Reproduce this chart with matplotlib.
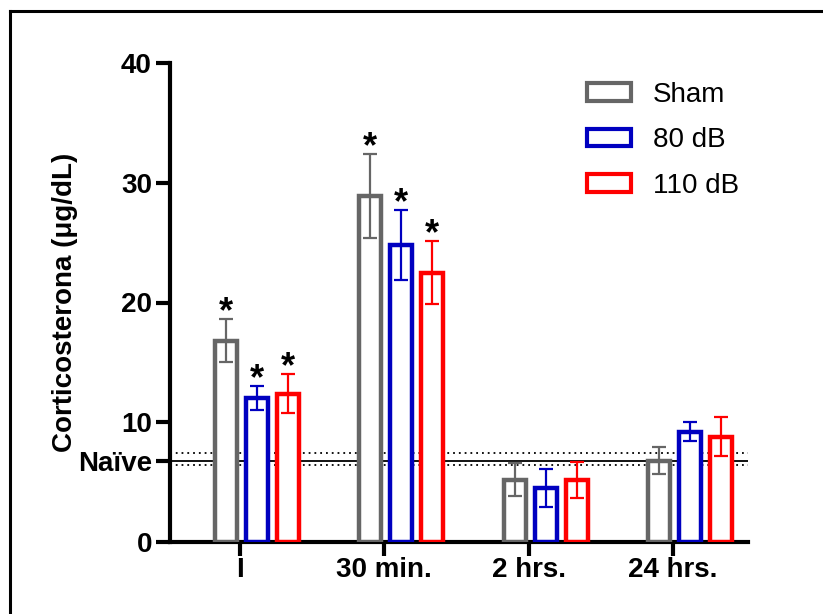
import matplotlib
matplotlib.use("Agg")
import matplotlib.pyplot as plt
import numpy as np
from matplotlib.patches import Rectangle
from matplotlib.lines import Line2D

plt.rcParams['font.family'] = ['Liberation Sans', 'DejaVu Sans']

groups = ["I", "30 min.", "2 hrs.", "24 hrs."]
series = ["Sham", "80 dB", "110 dB"]
colors = ["#666666", "#0000c0", "#ff0000"]
sham = [16.8, 28.9, 5.2, 6.8]
db80 = [12.0, 24.8, 4.5, 9.2]
db110 = [12.4, 22.5, 5.2, 8.8]
sham_err = [1.8, 3.5, 1.4, 1.1]
db80_err = [1.0, 2.9, 1.6, 0.8]
db110_err = [1.6, 2.6, 1.5, 1.6]
sig_sham = [True, True, False, False]
sig_80 = [True, True, False, False]
sig_110 = [True, True, False, False]
naive_mean = 6.8
naive_upper = 7.4
naive_lower = 6.4

values = [sham, db80, db110]
errs = [sham_err, db80_err, db110_err]
sigs = [sig_sham, sig_80, sig_110]

fig = plt.figure(figsize=(8.23, 6.14), dpi=100)
ax = fig.add_axes([170/823, 1-542/614, (748-170)/823, (542-63)/614])

x = np.arange(len(groups))
offset = 0.215
width = 0.153
for k in range(3):
    xs = x + (k - 1) * offset
    ax.bar(xs, values[k], width=width, facecolor='white', edgecolor=colors[k],
           linewidth=3.2, zorder=3, label=series[k])
    ax.errorbar(xs, values[k], yerr=errs[k], fmt='none', ecolor=colors[k],
                elinewidth=1.6, capsize=5, capthick=1.6, zorder=4)
    for xi, v, e, s in zip(xs, values[k], errs[k], sigs[k]):
        if s:
            ax.text(xi, v + e - 0.25, "*", ha='center', va='baseline', fontsize=26,
                    fontweight='bold', zorder=5)

xl = (-0.604, 3.403)
ax.plot(xl, [naive_mean]*2, color='black', lw=1.3, zorder=2)
ax.plot(xl, [naive_upper]*2, color='black', lw=1.3, ls=(0, (1, 2.2)), zorder=2)
ax.plot(xl, [naive_lower]*2, color='black', lw=1.3, ls=(0, (1, 2.2)), zorder=2)

ax.set_xlim(*xl)
ax.set_ylim(0, 40)
ax.spines['top'].set_visible(False)
ax.spines['right'].set_visible(False)
ax.spines['left'].set_linewidth(3)
ax.spines['bottom'].set_linewidth(3)
ax.set_xticks(x - 0.118)
ax.set_xticklabels(groups, fontsize=20, fontweight='bold')
ax.set_yticks([0, 10, 20, 30, 40, naive_mean])
ax.set_yticklabels(["0", "10", "20", "30", "40", "Naïve"], fontsize=20, fontweight='bold')
ax.tick_params(axis='both', width=3, length=10, pad=3)
ax.tick_params(axis='x', pad=1)
ax.set_ylabel("Corticosterona (μg/dL)", fontsize=20, fontweight='bold', labelpad=0)

handles = [Rectangle((0, 0), 1, 1, facecolor='white', edgecolor=c, linewidth=3) for c in colors]
ax.legend(handles, series, loc='upper right', bbox_to_anchor=(0.985, 1 - 19/479), frameon=False,
          fontsize=20, handlelength=1.6, handleheight=0.6, labelspacing=0.7, handletextpad=0.8,
          borderpad=0, borderaxespad=0)

fig.add_artist(Line2D([9.5/823, 9.5/823], [0, 1-11/614], color='black', lw=2.2, transform=fig.transFigure))
fig.add_artist(Line2D([9.5/823, 1], [1-11/614, 1-11/614], color='black', lw=2.2, transform=fig.transFigure))

fig.savefig("out.png", dpi=100)
